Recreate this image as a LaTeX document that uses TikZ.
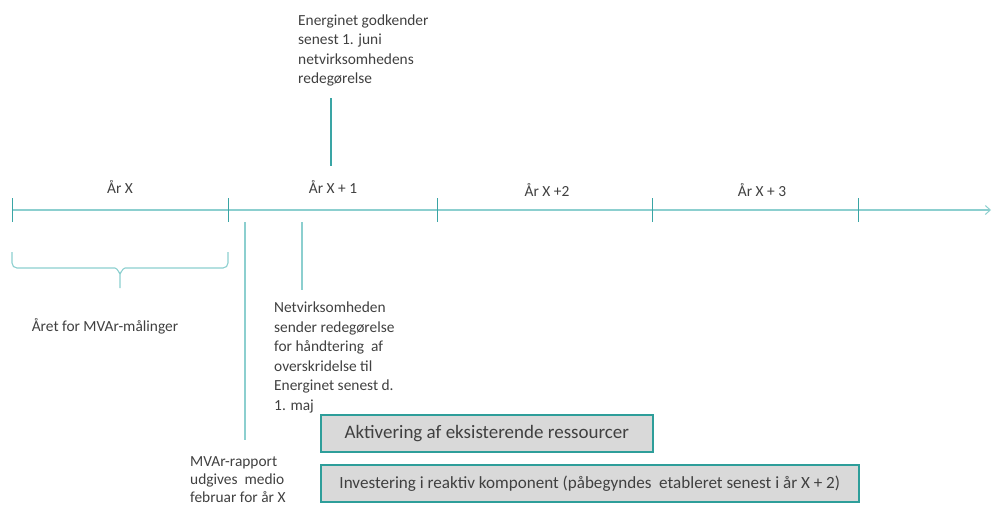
\documentclass[tikz,border=0pt]{standalone}
\usepackage{fontspec}
\setmainfont{Carlito}
\usetikzlibrary{arrows.meta}
\definecolor{tline}{HTML}{8CCFCF}
\definecolor{ttick}{HTML}{3AA5A5}
\definecolor{tbox}{HTML}{2E9E9A}
\definecolor{txt}{HTML}{404040}
\begin{document}
\begin{tikzpicture}[x=1pt,y=-1pt,
  every node/.style={text=txt,font=\fontsize{15.4}{19.5}\selectfont},
  yr/.style={anchor=center},
  note/.style={align=left,anchor=north west,inner sep=0pt},
  tickl/.style={draw=ttick,line width=1pt},
  conn/.style={draw=tline,line width=1.3pt},
  greybox/.style={draw=tbox,line width=1.5pt,fill=black!15,minimum height=37pt,anchor=north west,inner sep=0pt}
]
\useasboundingbox (0,0) rectangle (992,507);
% timeline
\coordinate (t0) at (12,210);
\coordinate (tend) at (991,210);
\draw[draw=tline,line width=1.3pt,-{Straight Barb[length=5pt,width=9pt,line width=1pt]}] (t0) -- (tend);
\foreach \x/\n in {12/a,228/b,437/c,652/d,858/e}{
  \coordinate (k\n) at (\x,210);
  \draw[tickl] (\x,198) -- (\x,222);
}
\node[yr] (y0) at (120,187) {År X};
\node[yr] (y1) at (333,187) {År X + 1};
\node[yr] (y2) at (547,190) {År X +2};
\node[yr] (y3) at (762,190) {År X + 3};
% brace
\coordinate (bl) at (12,252);
\coordinate (br) at (228,252);
\draw[conn,line width=1.1pt] (bl) -- (12,263) to[out=-90,in=180] (17,268) -- (115,268) to[out=0,in=-90] (120,273) -- (120,288);
\draw[conn,line width=1.1pt] (br) -- (228,263) to[out=-90,in=0] (223,268) -- (125,268) to[out=180,in=-90] (120,273);
\node[yr] (brl) at (105,326) {Året for MVAr-målinger};
% connectors
\coordinate (c1a) at (245,222);
\coordinate (c1b) at (245,440);
\draw[conn] (c1a) -- (c1b);
\coordinate (c2a) at (302,222);
\coordinate (c2b) at (302,290);
\draw[conn] (c2a) -- (c2b);
\coordinate (c3a) at (331,98);
\coordinate (c3b) at (331,166);
\draw[draw=ttick,line width=1.3pt] (c3a) -- (c3b);
% notes
\node[note] (n1) at (298,14.5) {Energinet godkender\\senest 1. juni\\netvirksomhedens\\redegørelse};
\node[note] (n2) at (274,302) {Netvirksomheden\\sender redegørelse\\for håndtering \ af\\overskridelse til\\Energinet senest d.\\1. maj};
\node[note,font=\fontsize{15.4}{18.3}\selectfont] (n3) at (190,456) {MVAr-rapport\\udgives \ medio\\februar for år X};
% boxes
\node[greybox,minimum width=332pt,font=\fontsize{19}{22}\selectfont] (b1) at (320,414) {Aktivering af eksisterende ressourcer};
\node[greybox,minimum width=538pt,font=\fontsize{17.1}{20}\selectfont] (b2) at (320,464) {Investering i reaktiv komponent (påbegyndes \ etableret senest i år X + 2)};
\end{tikzpicture}
\end{document}
